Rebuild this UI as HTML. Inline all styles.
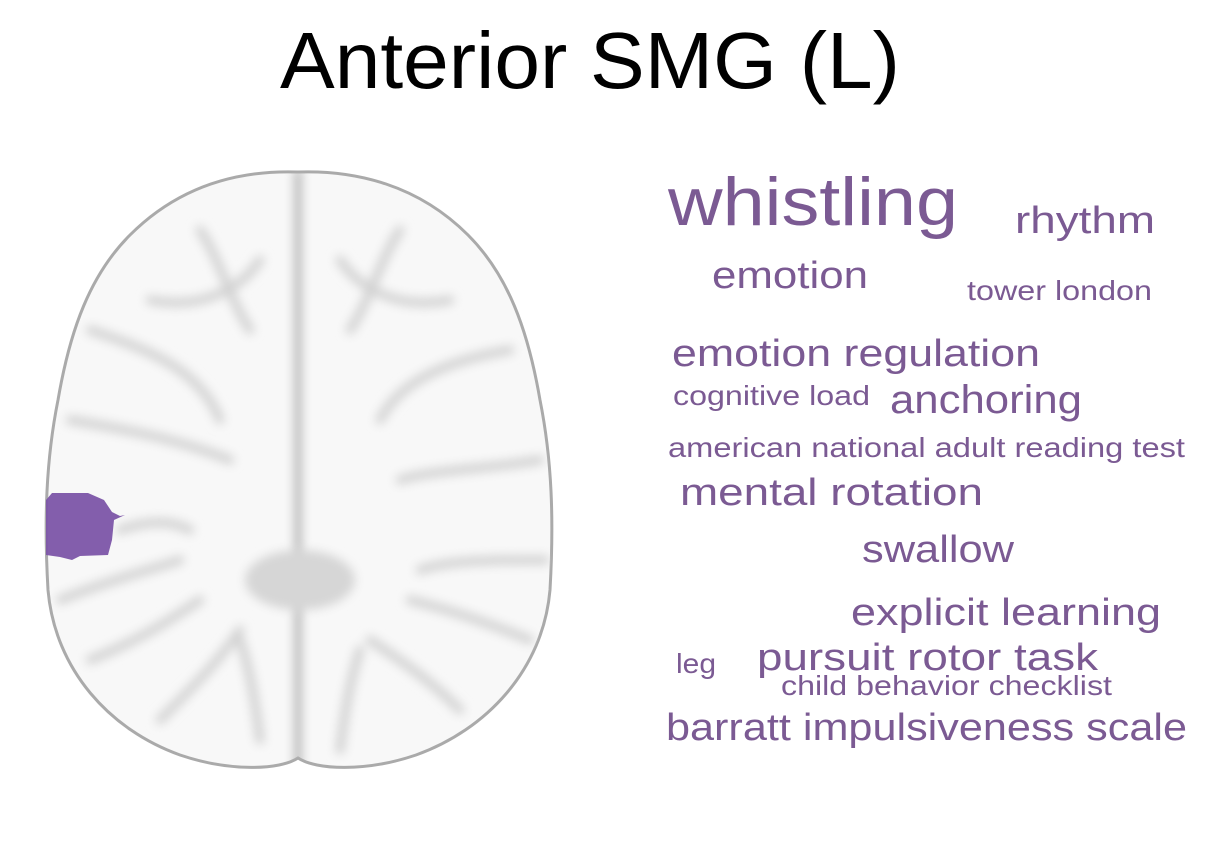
<!DOCTYPE html>
<html><head><meta charset="utf-8">
<style>
html,body{margin:0;padding:0;background:#fff;}
body{width:1215px;height:850px;overflow:hidden;}
svg{display:block;}
text{font-family:"Liberation Sans","DejaVu Sans",sans-serif;}
</style></head>
<body>
<svg width="1215" height="850" viewBox="0 0 1215 850">
<defs>
<filter id="bl" x="-20%" y="-20%" width="140%" height="140%"><feGaussianBlur stdDeviation="5"/></filter>
<clipPath id="brainclip"><path d="M298,172 C240,170 180,185 130,235 C90,275 70,330 58,400 C46,460 44,520 48,590 C55,670 110,730 180,755 C230,772 280,770 298,758 C316,770 366,772 416,755 C486,730 543,670 550,590 C554,520 552,460 540,400 C528,330 508,275 468,235 C418,185 356,170 298,172 Z"/></clipPath>
</defs>
<text x="590" y="88" text-anchor="middle" font-size="80" fill="#000" textLength="620" lengthAdjust="spacingAndGlyphs">Anterior SMG (L)</text>

<g>
  <path d="M298,172 C240,170 180,185 130,235 C90,275 70,330 58,400 C46,460 44,520 48,590 C55,670 110,730 180,755 C230,772 280,770 298,758 C316,770 366,772 416,755 C486,730 543,670 550,590 C554,520 552,460 540,400 C528,330 508,275 468,235 C418,185 356,170 298,172 Z" fill="#f8f8f8" stroke="#aaa" stroke-width="3"/>
  <g clip-path="url(#brainclip)" stroke="#d2d2d2" stroke-width="9" fill="none" filter="url(#bl)" stroke-linecap="round">
    <path d="M298,172 L298,770" stroke="#b0b0b0" stroke-width="7"/>
    <path d="M200,230 C220,260 230,300 250,330"/>
    <path d="M150,300 C200,310 240,290 260,260"/>
    <path d="M90,330 C150,350 200,370 220,420"/>
    <path d="M70,420 C130,430 180,440 230,460"/>
    <path d="M60,600 C110,580 150,570 180,560"/>
    <path d="M90,660 C140,640 170,620 200,600"/>
    <path d="M160,720 C190,690 220,660 240,630"/>
    <path d="M260,740 C255,700 250,670 240,640"/>
    <path d="M400,230 C380,260 370,300 350,330"/>
    <path d="M450,300 C400,310 360,290 340,260"/>
    <path d="M510,350 C450,360 400,380 380,420"/>
    <path d="M540,460 C480,470 430,470 400,480"/>
    <path d="M545,560 C490,560 450,560 420,570"/>
    <path d="M530,640 C480,620 450,610 410,600"/>
    <path d="M460,710 C430,680 400,660 370,640"/>
    <path d="M340,750 C345,710 350,680 360,650"/>
    <ellipse cx="300" cy="580" rx="55" ry="30" fill="#d6d6d6" stroke="none"/>
    <path d="M120,530 C150,520 170,520 190,530"/>
  </g>
  <path d="M46,500 L52,493 L88,493 L104,500 L112,512 L120,516 L125,515 L114,520 L112,540 L108,555 L80,556 L72,560 L60,557 L46,555 Z" fill="#7c55a8" opacity="0.95"/>
</g>

<g id="cloud" fill="#7b5a93"></g>

<script>
const words = ["whistling","rhythm","emotion","tower london","emotion regulation","cognitive load","anchoring","american national adult reading test","mental rotation","swallow","explicit learning","leg","pursuit rotor task","child behavior checklist","barratt impulsiveness scale"];
const weights = [68,38,38,28,38,28,40,28,38,38,38,28,38,28,38];
const wx = [668,1015,712,967,672,673,890,668,680,862,851,676,757,781,666];
const wy = [225,233,288,300,366,405,413,457,505,562,625,673,670,695,740];
const ww = [290,140,156,185,368,197,192,517,303,152,310,40,341,331,521];
const g = document.getElementById('cloud');
words.forEach((w,i)=>{
  const t = document.createElementNS('http://www.w3.org/2000/svg','text');
  t.setAttribute('x', wx[i]);
  t.setAttribute('y', wy[i]);
  t.setAttribute('font-size', weights[i]);
  t.setAttribute('textLength', ww[i]);
  t.setAttribute('lengthAdjust','spacingAndGlyphs');
  t.textContent = w;
  
  
  g.appendChild(t);
});
</script>
</svg>
</body></html>
